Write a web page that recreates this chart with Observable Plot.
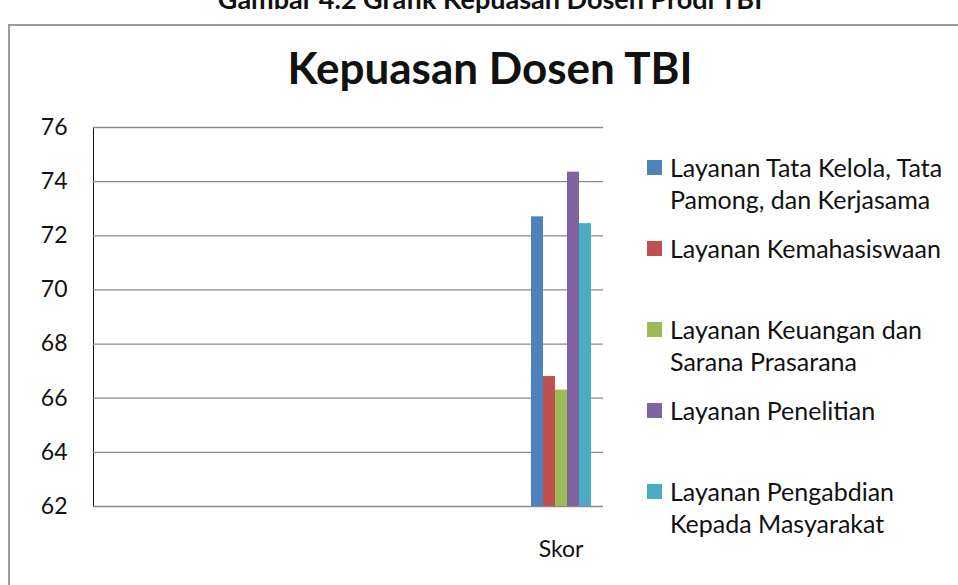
<!DOCTYPE html>
<html><head><meta charset="utf-8">
<script src="https://cdn.jsdelivr.net/npm/d3@7"></script>
<script src="https://cdn.jsdelivr.net/npm/@observablehq/plot@0.6"></script>
<style>
body{margin:0;width:958px;height:585px;overflow:hidden;background:#fff;position:relative;font-family:Lato,"Open Sans",sans-serif;color:#111;}
#caption{position:absolute;left:0;width:980px;top:-15px;text-align:center;font-weight:bold;font-size:27px;line-height:27px;}
#box{position:absolute;left:8px;top:24px;width:1000px;height:600px;border-left:2px solid #9a9a9a;border-top:2px solid #9a9a9a;}
#title{position:absolute;left:0;width:980px;top:43px;text-align:center;font-weight:bold;font-size:44px;line-height:48px;}
#chart{position:absolute;left:0;top:100px;}
#legend{position:absolute;left:647px;top:151px;font-size:25px;line-height:32px;}
.item{height:81px;display:flex;align-items:flex-start;}
.sw{width:15px;height:15px;margin-top:9px;margin-right:8px;flex:none;}
.lab{white-space:pre-line;}
</style></head><body>
<div id="caption">Gambar 4.2 Grafik Kepuasan Dosen Prodi TBI</div>
<div id="box"></div>
<div id="title">Kepuasan Dosen TBI</div>
<div id="chart"></div>
<div id="legend"></div>
<script>
const categories = ["k1", "k2", "k3", "k4", "k5", "Skor"];
const categoryLabels = ["", "", "", "", "", "Skor"];
const series = [
  "Layanan Tata Kelola, Tata Pamong, dan Kerjasama",
  "Layanan Kemahasiswaan",
  "Layanan Keuangan dan Sarana Prasarana",
  "Layanan Penelitian",
  "Layanan Pengabdian Kepada Masyarakat"
];
const legendLabels = [
  "Layanan Tata Kelola, Tata\nPamong, dan Kerjasama",
  "Layanan Kemahasiswaan",
  "Layanan Keuangan dan\nSarana Prasarana",
  "Layanan Penelitian",
  "Layanan Pengabdian\nKepada Masyarakat"
];
const values = [72.7, 66.8, 66.3, 74.35, 72.45];
const colors = ["#4F81BD", "#C0504D", "#9BBB59", "#8064A2", "#4BACC6"];
const yTicks = [62, 64, 66, 68, 70, 72, 74, 76];

const data = series.map((s, i) => ({category: "Skor", series: s, value: values[i]}));
const grid = categories.flatMap(c => yTicks.map(t => ({category: c, tick: t})));

const plot = Plot.plot({
  width: 620,
  height: 485,
  marginLeft: 91,
  marginRight: 16,
  marginTop: 27,
  marginBottom: 79,
  style: {fontFamily: "Lato, 'Open Sans', sans-serif", fontSize: "23px", color: "#111", background: "transparent", overflow: "visible"},
  fx: {domain: categories, padding: 0, axis: "bottom", label: null, tickSize: 0, tickPadding: 34,
       tickFormat: d => categoryLabels[categories.indexOf(d)]},
  x: {domain: series, axis: null, paddingInner: 0, paddingOuter: 0.8},
  y: {domain: [yTicks[0], yTicks[yTicks.length - 1]], ticks: yTicks, tickSize: 0, tickPadding: 26, label: null, line: true},
  color: {domain: series, range: colors},
  marks: [
    Plot.ruleY(grid, {fx: "category", y: "tick", stroke: "#8a8a8a", strokeWidth: 1.3}),
    Plot.barY(data, {fx: "category", x: "series", y1: yTicks[0], y2: "value", fill: "series", inset: 0})
  ]
});
document.getElementById("chart").append(plot);

const legend = d3.select("#legend");
series.forEach((s, i) => {
  const it = legend.append("div").attr("class", "item");
  it.append("div").attr("class", "sw").style("background", colors[i]);
  it.append("div").attr("class", "lab").text(legendLabels[i]);
});
</script>
</body></html>
